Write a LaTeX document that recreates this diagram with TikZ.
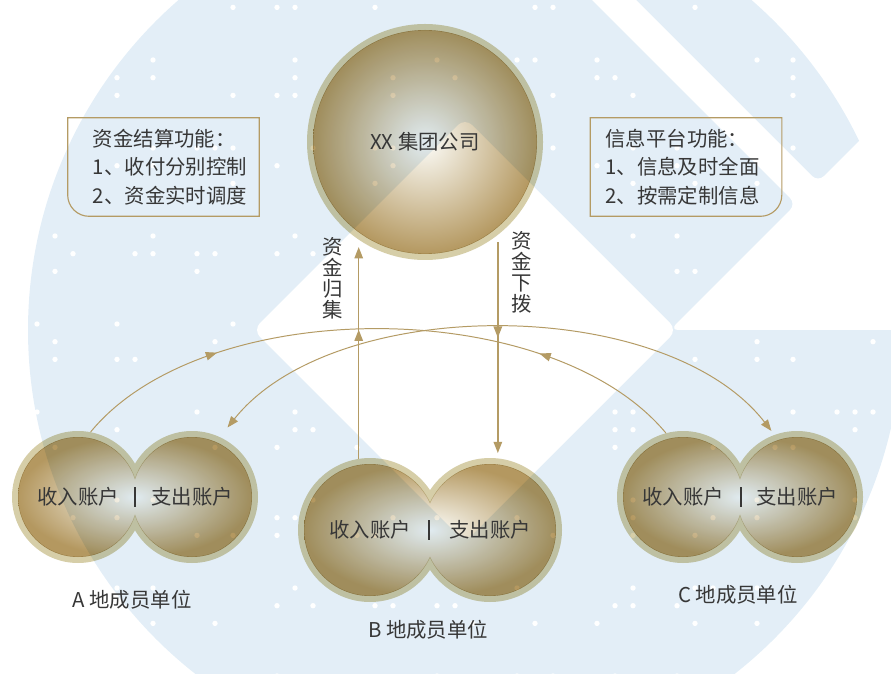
\documentclass[tikz,border=0pt]{standalone}
\usepackage{fontspec}
\newfontfamily\zhfont{Noto Sans CJK SC}
\usetikzlibrary{arrows.meta,decorations.markings}

\definecolor{bgBlue}{RGB}{227,238,247}
\definecolor{ringKhaki}{RGB}{214,206,168}
\definecolor{coreLight}{RGB}{252,252,248}
\definecolor{rimGold}{RGB}{180,152,96}
\definecolor{lineGold}{RGB}{180,155,100}
\definecolor{textGray}{RGB}{55,55,55}

\pgfdeclarelayer{back}
\pgfsetlayers{back,main}

\newcommand{\diagfont}{\zhfont\fontsize{14.5pt}{20.2pt}\selectfont}

\begin{document}
\begin{tikzpicture}[x=0.025cm, y=-0.025cm,
    >={Triangle[length=8pt,width=6pt]},
    corpnode/.style={circle, minimum size=5.9cm, inner sep=0pt, font=\diagfont, text=textGray},
    acctnode/.style={circle, inner sep=0pt, font=\diagfont, text=textGray},
    sepbar/.style={rectangle, fill=textGray, minimum width=0.05cm, minimum height=0.5cm, inner sep=0pt},
    infobox/.style={rectangle, minimum width=4.775cm, minimum height=2.45cm, inner sep=0pt},
    infotext/.style={align=left, inner sep=0pt, font=\diagfont, text=textGray},
    vlabel/.style={align=center, inner sep=0pt, font=\zhfont\fontsize{14.5pt}{15pt}\selectfont, text=textGray},
    namelbl/.style={inner sep=0pt, font=\diagfont, text=textGray},
    boxline/.style={draw=lineGold, line width=0.8pt},
    flowline/.style={draw=lineGold, line width=1pt},
    curveline/.style={draw=lineGold, line width=0.7pt},
    midarrow/.style={postaction={decorate, decoration={markings, mark=at position #1 with {\arrow{>}}}}},
    midback/.style={postaction={decorate, decoration={markings, mark=at position #1 with {\arrowreversed{>}}}}}]
    \useasboundingbox (0,0) rectangle (891,674);

    % group company and member units
    \node (corp) [corpnode] at (425,142) {XX 集团公司};
    \node (aIn) [acctnode, minimum size=3.3cm] at (78,497) {收入账户};
    \node (aOut) [acctnode, minimum size=3.3cm] at (192,497) {支出账户};
    \node (aBar) [sepbar] at (135,497) {};
    \node (bIn) [acctnode, minimum size=3.6cm] at (370,530) {收入账户};
    \node (bOut) [acctnode, minimum size=3.6cm] at (490,530) {支出账户};
    \node (bBar) [sepbar] at (429,530) {};
    \node (cIn) [acctnode, minimum size=3.3cm] at (683,497) {收入账户};
    \node (cOut) [acctnode, minimum size=3.3cm] at (797,497) {支出账户};
    \node (cBar) [sepbar] at (741,497) {};
    \node (aName) [namelbl] at (132,600) {A 地成员单位};
    \node (bName) [namelbl] at (428,630) {B 地成员单位};
    \node (cName) [namelbl] at (738,595) {C 地成员单位};

    % function boxes
    \node (fundBox) [infobox] at (163.5,167) {};
    \node (fundText) [infotext, anchor=west] at ([xshift=0.625cm]fundBox.west) {资金结算功能：\\1、收付分别控制\\2、资金实时调度};
    \draw [boxline] (fundBox.north west) -- (fundBox.north east) -- (fundBox.south east)
        -- ([xshift=0.53cm]fundBox.south west) .. controls ([xshift=0.24cm]fundBox.south west) and ([yshift=0.24cm]fundBox.south west) .. ([yshift=0.53cm]fundBox.south west) -- cycle;
    \node (infoBox) [infobox] at (686,167) {};
    \node (infoText) [infotext, anchor=west] at ([xshift=0.375cm]infoBox.west) {信息平台功能：\\1、信息及时全面\\2、按需定制信息};
    \draw [boxline] (infoBox.south west) -- (infoBox.north west) -- (infoBox.north east)
        -- ([yshift=0.53cm]infoBox.south east) .. controls ([yshift=0.24cm]infoBox.south east) and ([xshift=-0.24cm]infoBox.south east) .. ([xshift=-0.53cm]infoBox.south east) -- cycle;

    % fund flows
    \draw [flowline, midarrow=0.59, ->, shorten >=0.175cm] (bIn.99) -- (bIn.99 |- corp.236);
    \draw [flowline, midarrow=0.46, ->, shorten <=0.175cm, shorten >=0.125cm] (corp.-52) -- (corp.-52 |- bOut.84);
    \node (collectLbl) [vlabel] at (333,278) {资\\金\\归\\集};
    \node (allotLbl) [vlabel] at (522,272) {资\\金\\下\\拨};
    \draw [curveline, midarrow=0.24, midback=0.76] (aIn.79) .. controls (204,294) and (550,294) .. (cIn.105);
    \draw [curveline, <->, shorten <=0.3cm, shorten >=0.12cm] (aOut.65) .. controls (334,294) and (665,294) .. (cOut.110);

    \begin{pgfonlayer}{back}
    \begin{scope}
        \clip (0,0) rectangle (891,674);
        % logo in the background
        \fill [bgBlue] (465,330) circle [radius=437];
        \fill [white, rounded corners=7pt] (465,118) -- (677,330) -- (465,542) -- (253,330) -- cycle;
        \fill [white, rounded corners=6pt] (572,-20) -- (796,204) -- (670,330) -- (930,330) -- (930,70) -- (818,182) -- (616,-20) -- cycle;
        \pgfmathsetseed{42}
        \foreach \gx in {0,...,12}
            \foreach \gy in {0,...,8}
                \foreach \k in {0,1,2}
                    \foreach \m in {0,1,2} {
                        \pgfmathtruncatemacro{\keep}{rnd<0.33 ? 1 : 0}
                        \ifnum\keep=1 \fill [white] (-43+80*\gx+18*\k,-28+88*\gy+17.7*\m) circle [radius=2.7]; \fi
                    }
        % see-through discs
        \begin{scope}[blend mode=multiply]
            \shade [inner color=coreLight, outer color=rimGold] (corp.center) circle [radius=112];
            \fill [ringKhaki, even odd rule] (corp.center) circle [radius=118] (corp.center) circle [radius=111.6];
            \foreach \lft/\rgt/\rad in {aIn/aOut/66, bIn/bOut/72, cIn/cOut/66} {
                \shade [inner color=coreLight, outer color=rimGold] (\lft.center) circle [radius=\rad-6] (\rgt.center) circle [radius=\rad-6];
                \begin{scope}[even odd rule]
                    \clip (-20,-20) rectangle (911,694) (\lft.center) circle [radius=\rad-6.4];
                    \clip (-20,-20) rectangle (911,694) (\rgt.center) circle [radius=\rad-6.4];
                    \fill [ringKhaki, nonzero rule] (\lft.center) circle [radius=\rad] (\rgt.center) circle [radius=\rad];
                \end{scope}
            }
        \end{scope}
    \end{scope}
    \end{pgfonlayer}
\end{tikzpicture}
\end{document}
